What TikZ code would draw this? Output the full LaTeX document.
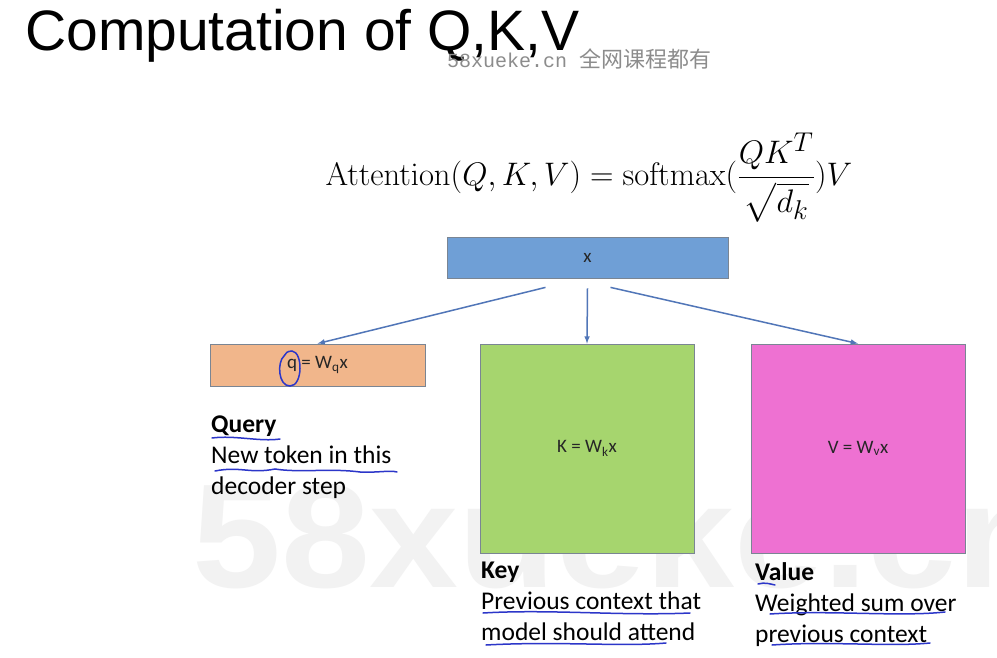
\documentclass[tikz,border=0pt]{standalone}
\usepackage{amsmath}
\usepackage[no-math]{fontspec}
\setmainfont{Carlito}
\newfontfamily\titlefont{Liberation Sans}
\newfontfamily\markfont{Liberation Mono}
\newfontfamily\cjk{Noto Sans CJK SC}
\newfontfamily\bigmark{Liberation Sans}
\definecolor{xblue}{HTML}{6F9FD6}
\definecolor{qtan}{HTML}{F1B68B}
\definecolor{kgreen}{HTML}{A6D56E}
\definecolor{vpink}{HTML}{EE71D2}
\definecolor{edge}{HTML}{7A8593}
\definecolor{arrowblue}{HTML}{5176B8}
\definecolor{pen}{HTML}{2C36C9}
\begin{document}
\begin{tikzpicture}[x=1pt,y=-1pt,
    mat/.style={draw=edge, line width=0.8pt, inner sep=0pt, text=black!85, font=\fontsize{19}{22}\selectfont},
    desc/.style={anchor=north west, align=left, inner sep=0pt, font=\fontsize{25.5}{31}\selectfont},
    flow/.style={-latex, arrowblue, line width=1.5pt},
    ink/.style={pen, line width=1.5pt, line cap=round}]
    \useasboundingbox[fill=white] (0,0) rectangle (997,658);
    % faded watermarks
    \begin{scope}
        \clip (0,0) rectangle (997,658);
        \node[anchor=base west, inner sep=0pt, text=black!5, xscale=1.08, font=\bigmark\bfseries\fontsize{148}{150}\selectfont] (wm) at (192,587) {58xueke.cn};
    \end{scope}
    \node[anchor=base west, inner sep=0pt, font=\titlefont\fontsize{57}{60}\selectfont] (title) at (25,51) {Computation of Q,K,V};
    \node[anchor=base west, inner sep=0pt, text=black!45] (mark) at (447,68) {\markfont\fontsize{20}{24}\selectfont 58xueke.cn\ \cjk\fontsize{22}{24}\selectfont 全网课程都有};
    \node[font=\fontsize{24.88}{30}\selectfont] (eq) at (589,178) {\scalebox{1.31}{$\displaystyle \mathrm{Attention}(Q,K,V)=\mathrm{softmax}(\frac{QK^T}{\sqrt{d_k}})V$}};
    % boxes
    \node[mat, fill=xblue, minimum width=281, minimum height=41] (x) at (587.5,257.5) {x};
    \node[mat, fill=qtan, minimum width=215, minimum height=42] (q) at (317.5,365) {q = W$_\text{q}$x};
    \node[mat, fill=kgreen, minimum width=214, minimum height=209] (k) at (587,448.5) {K = W$_\text{k}$x};
    \node[mat, fill=vpink, minimum width=214, minimum height=209] (v) at (858,448.5) {V = W$_\text{v}$x};
    \draw[flow] ([xshift=-42pt,yshift=-9pt]x.south) -- (q.north);
    \draw[flow] ([yshift=-10pt]x.south) -- (k.north);
    \draw[flow] ([xshift=23pt,yshift=-9pt]x.south) -- (v.north);
    % descriptions
    \node[desc] (query) at (211,416) {\textbf{Query}\\New token in this\\decoder step};
    \node[desc] (key) at (481,562) {\textbf{Key}\\Previous context that\\model should attend};
    \node[desc] (value) at (755,562) {\textbf{Value}\\Weighted sum over\\previous context};
    % pen marks
    \draw[ink] (284,356) .. controls (277,362) and (278,386) .. (290,386) .. controls (303,386) and (303,352) .. (292,351) .. controls (288,351) and (285,353) .. (284,356);
    \draw[ink] (212,438) .. controls (235,435) and (260,442) .. (280,439);
    \draw[ink] (215,471) .. controls (240,466) and (250,474) .. (275,469) .. controls (300,473) and (330,468) .. (360,472) .. controls (375,473) and (390,470) .. (397,472);
    \draw[ink] (483,613) .. controls (550,609) and (620,616) .. (690,613);
    \draw[ink] (486,645) .. controls (560,641) and (620,647) .. (666,643);
    \draw[ink] (758,584) .. controls (765,582) and (770,584) .. (775,585);
    \draw[ink] (770,614) .. controls (830,610) and (900,617) .. (945,612);
    \draw[ink] (772,645) .. controls (830,641) and (890,647) .. (930,643);
\end{tikzpicture}
\end{document}
